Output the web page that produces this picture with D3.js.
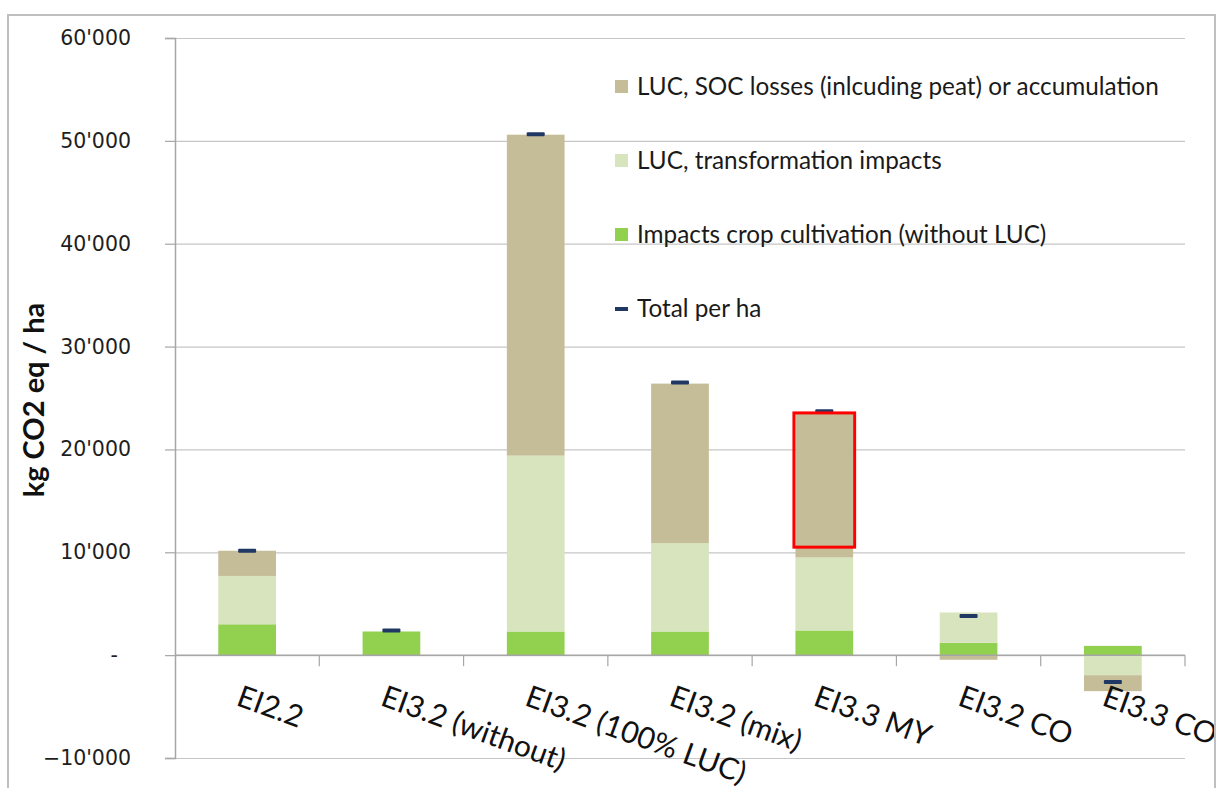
<!DOCTYPE html>
<html>
<head>
<meta charset="utf-8">
<script src="https://cdn.jsdelivr.net/npm/d3@7"></script>
<style>
  html, body { margin: 0; padding: 0; background: #fff; }
  svg { display: block; }
</style>
</head>
<body>
<svg id="chart" width="1218" height="788"></svg>
<script>
// ---- data ----
const categories = ["EI2.2", "EI3.2 (without)", "EI3.2 (100% LUC)", "EI3.2 (mix)", "EI3.3 MY", "EI3.2 CO", "EI3.3 CO"];
const cropCultivation = [3000, 2300, 2300, 2300, 2400, 1200, 900];
const transformation  = [4700, 0, 17100, 8600, 7100, 2950, -1950];
const socLosses       = [2450, 0, 31200, 15500, 14000, -450, -1550];
const totals          = [10150, 2400, 50650, 26500, 23700, 3800, -2600];
const yTicks = [-10000, 0, 10000, 20000, 30000, 40000, 50000, 60000];
const seriesNames = ["Impacts crop cultivation (without LUC)", "LUC, transformation impacts", "LUC, SOC losses (inlcuding peat) or accumulation"];
const totalName = "Total per ha";
const highlightCategory = "EI3.3 MY";
const highlightRange = [10500, 23550];
const yTitle = "kg CO2 eq / ha";

(function () {
// ---- layout ----
const svg = d3.select("#chart");
const pLeft = 175, pRight = 1185, pTop = 38, pBottom = 758;
const colors = ["#92d050", "#d7e4bd", "#c4bd97"];
const markerColor = "#1f3864";

const x = d3.scaleBand().domain(categories).range([pLeft, pRight]).paddingInner(0.6).paddingOuter(0.3);
const y = d3.scaleLinear().domain([-10000, 60000]).range([pBottom, pTop]);
const step = x.step();

// gridlines
const grid = svg.append("g").attr("transform", `translate(${pLeft},0)`)
  .call(d3.axisLeft(y).tickValues(yTicks).tickSize(-(pRight - pLeft)).tickFormat(""));
grid.select(".domain").remove();
grid.selectAll(".tick line").attr("stroke", "#c6c6c6").attr("stroke-width", 1.2);

// y axis
const fmt = v => v === 0 ? "-\u00A0\u00A0" : d3.format(",")(v).replace(/,/g, "'");
const yAxis = svg.append("g").attr("transform", `translate(${pLeft},0)`)
  .call(d3.axisLeft(y).tickValues(yTicks).tickSize(10).tickPadding(34).tickFormat(fmt));
yAxis.select(".domain").attr("stroke", "#a6a6a6").attr("stroke-width", 1.5);
yAxis.selectAll(".tick line").attr("stroke", "#a6a6a6").attr("stroke-width", 1.2);
yAxis.selectAll(".tick text").attr("font-family", "DejaVu Sans").attr("font-size", 20.5).attr("fill", "#1e1e1e");

// y title
svg.append("text")
  .attr("transform", `translate(44,400) rotate(-90)`)
  .attr("text-anchor", "middle")
  .attr("font-family", "Lato").attr("font-weight", "bold").attr("font-size", 29)
  .attr("fill", "#111")
  .text(yTitle);

// bars (stacked, diverging)
const rows = categories.map((c, i) => ({ cat: c, s0: cropCultivation[i], s1: transformation[i], s2: socLosses[i] }));
const stack = d3.stack().keys(["s0", "s1", "s2"]).offset(d3.stackOffsetDiverging);
const stacked = stack(rows);
svg.append("g").selectAll("g").data(stacked).join("g")
  .attr("fill", (d, i) => colors[i])
  .selectAll("rect").data(d => d).join("rect")
  .attr("x", d => x(d.data.cat))
  .attr("width", x.bandwidth())
  .attr("y", d => y(Math.max(d[0], d[1])))
  .attr("height", d => Math.abs(y(d[0]) - y(d[1])));

// category axis at zero
const xAxisG = svg.append("g");
xAxisG.append("line").attr("x1", pLeft).attr("x2", pRight).attr("y1", y(0)).attr("y2", y(0))
  .attr("stroke", "#a6a6a6").attr("stroke-width", 1.5);
const boundaries = categories.map(c => x(c) + x.bandwidth() / 2 + step / 2);
xAxisG.selectAll("line.tk").data(boundaries).join("line").attr("class", "tk")
  .attr("x1", d => d).attr("x2", d => d).attr("y1", y(0)).attr("y2", y(0) + 11)
  .attr("stroke", "#a6a6a6").attr("stroke-width", 1.2);

// total markers
svg.append("g").selectAll("rect").data(categories).join("rect")
  .attr("x", c => x(c) + x.bandwidth() / 2 - 9)
  .attr("y", (c, i) => y(totals[i]) - 2)
  .attr("width", 18).attr("height", 4).attr("rx", 1)
  .attr("fill", markerColor);

// highlight box
svg.append("rect")
  .attr("x", x(highlightCategory) - 1.5)
  .attr("width", x.bandwidth() + 3)
  .attr("y", y(highlightRange[1]))
  .attr("height", y(highlightRange[0]) - y(highlightRange[1]))
  .attr("fill", "none").attr("stroke", "#ff0000").attr("stroke-width", 3);

// x labels
svg.append("g").selectAll("text").data(categories).join("text")
  .attr("transform", c => `translate(${x(c) + x.bandwidth() / 2 - 5},685) rotate(20)`)
  .attr("y", 21)
  .attr("font-family", "Lato").attr("font-size", 30).attr("fill", "#111")
  .text(c => c);

// legend
const legendItems = [
  { name: seriesNames[2], color: colors[2], type: "box" },
  { name: seriesNames[1], color: colors[1], type: "box" },
  { name: seriesNames[0], color: colors[0], type: "box" },
  { name: totalName, color: markerColor, type: "dash" }
];
const lg = svg.append("g").selectAll("g").data(legendItems).join("g")
  .attr("transform", (d, i) => `translate(615,${95 + i * 74})`);
lg.filter(d => d.type === "box").append("rect")
  .attr("x", 0).attr("y", -15).attr("width", 13).attr("height", 13).attr("fill", d => d.color);
lg.filter(d => d.type === "dash").append("rect")
  .attr("x", 0).attr("y", -10).attr("width", 13).attr("height", 4).attr("fill", d => d.color);
lg.append("text").attr("x", 22).attr("y", 0)
  .attr("font-family", "Lato").attr("font-size", 24.3).attr("fill", "#1a1a1a")
  .text(d => d.name);

// frame (drawn last; the last label runs into it as in the reference)
svg.append("rect").attr("x", 1215).attr("y", 0).attr("width", 10).attr("height", 800).attr("fill", "#fff");
svg.append("rect").attr("x", 8).attr("y", 15).attr("width", 1207).attr("height", 800)
  .attr("fill", "none").attr("stroke", "#bfbfbf").attr("stroke-width", 2);
})();
</script>
</body>
</html>
